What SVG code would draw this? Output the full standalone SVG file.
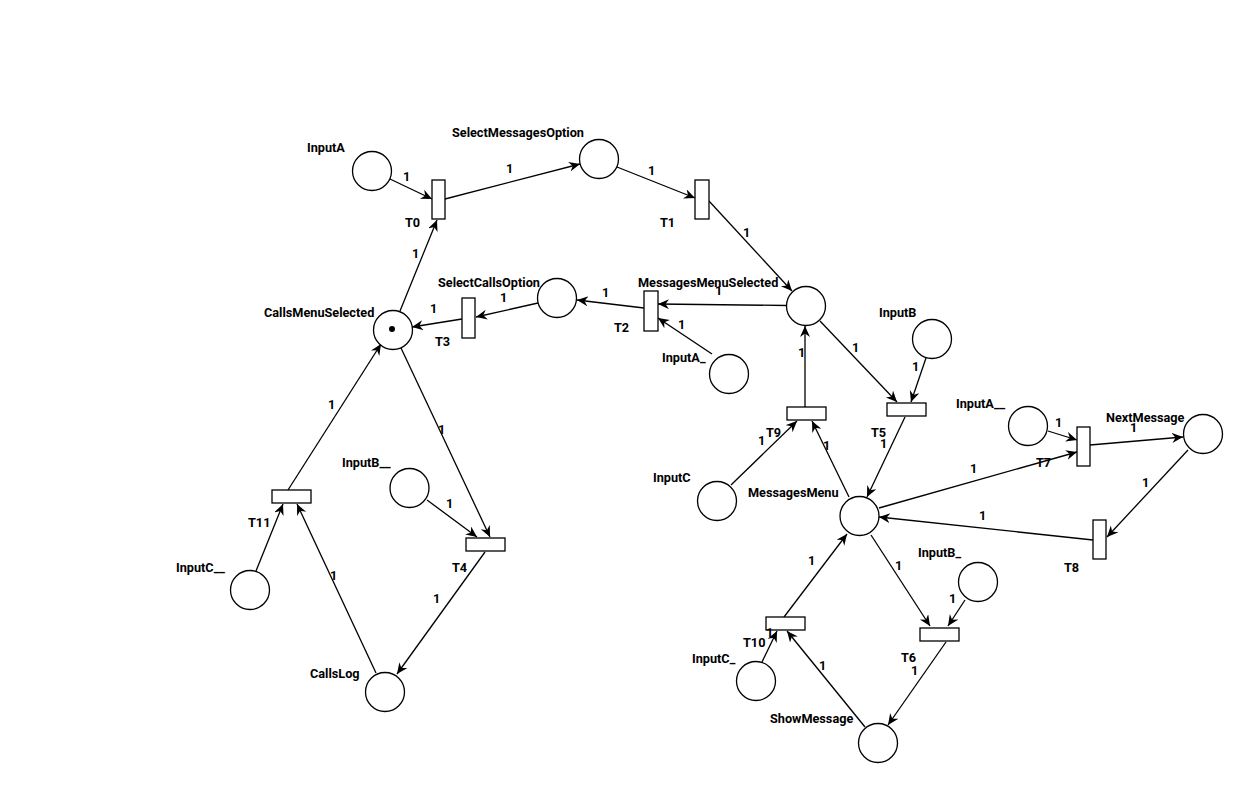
<svg xmlns="http://www.w3.org/2000/svg" width="1247" height="787" viewBox="0 0 1247 787">
  <style>
    .arc { fill: none; stroke: #000; stroke-width: 1.3; marker-end: url(#arrow); }
    .place { fill: #fff; stroke: #000; stroke-width: 1.3; }
    .trans { fill: #fff; stroke: #000; stroke-width: 1.3; }
    text { font-family: Roboto, "Liberation Sans", sans-serif; font-size: 12.7px; font-weight: bold; fill: #000; }
  </style>
  <defs>
    <marker id="arrow" markerUnits="userSpaceOnUse" markerWidth="13" markerHeight="12" refX="11" refY="5" orient="auto">
      <path d="M0,0 L11,5 L0,10 L3.5,5 Z" fill="#000"/>
    </marker>
  </defs>
  <rect width="1247" height="787" fill="#fff"/>

  <!-- arcs -->
  <g id="connectors">
    <line class="arc" x1="390" y1="179" x2="432" y2="199"/>
    <line class="arc" x1="400" y1="311" x2="437" y2="220"/>
    <line class="arc" x1="445" y1="199" x2="580" y2="164"/>
    <line class="arc" x1="617" y1="167" x2="695" y2="198"/>
    <line class="arc" x1="709" y1="201" x2="792" y2="291"/>
    <line class="arc" x1="786" y1="305.5" x2="658" y2="304"/>
    <line class="arc" x1="712" y1="354" x2="658" y2="318"/>
    <line class="arc" x1="644" y1="308" x2="577" y2="300"/>
    <line class="arc" x1="538" y1="303" x2="476" y2="317"/>
    <line class="arc" x1="462" y1="319" x2="412" y2="327"/>
    <line class="arc" x1="401" y1="348" x2="490" y2="537"/>
    <line class="arc" x1="427" y1="500" x2="477" y2="537"/>
    <line class="arc" x1="485" y1="552" x2="397" y2="674"/>
    <line class="arc" x1="376" y1="673" x2="297" y2="504"/>
    <line class="arc" x1="256" y1="571" x2="283" y2="504"/>
    <line class="arc" x1="288" y1="490" x2="381" y2="344"/>
    <line class="arc" x1="820" y1="321" x2="897" y2="402"/>
    <line class="arc" x1="926" y1="358" x2="911" y2="402"/>
    <line class="arc" x1="905" y1="417" x2="867" y2="497"/>
    <line class="arc" x1="805" y1="407" x2="805" y2="326"/>
    <line class="arc" x1="731" y1="485" x2="797" y2="421"/>
    <line class="arc" x1="849" y1="497" x2="812" y2="421"/>
    <line class="arc" x1="879" y1="508" x2="1077" y2="452"/>
    <line class="arc" x1="1048" y1="431" x2="1077" y2="440"/>
    <line class="arc" x1="1090" y1="445" x2="1183" y2="437"/>
    <line class="arc" x1="1188" y1="450" x2="1107" y2="537"/>
    <line class="arc" x1="1093" y1="540" x2="879" y2="517"/>
    <line class="arc" x1="871" y1="535" x2="930" y2="626"/>
    <line class="arc" x1="965" y1="600" x2="948" y2="626"/>
    <line class="arc" x1="946" y1="642" x2="888" y2="725"/>
    <line class="arc" x1="865" y1="727" x2="787" y2="631"/>
    <line class="arc" x1="762" y1="662" x2="777" y2="631"/>
    <line class="arc" x1="784" y1="617" x2="847" y2="534"/>
  </g>

  <!-- places -->
  <g id="InputA"><circle class="place" cx="372" cy="171" r="19.5"/><text x="307" y="152">InputA</text></g>
  <g id="SelectMessagesOption"><circle class="place" cx="599" cy="159" r="19.5"/><text x="452" y="137">SelectMessagesOption</text></g>
  <g id="MessagesMenuSelected"><circle class="place" cx="806" cy="306" r="19.5"/><text x="638" y="287">MessagesMenuSelected</text></g>
  <g id="SelectCallsOption"><circle class="place" cx="557" cy="298" r="19.5"/><text x="438" y="287">SelectCallsOption</text></g>
  <g id="CallsMenuSelected"><circle class="place" cx="393" cy="330" r="19.5"/><circle cx="392" cy="329" r="3" fill="#000"/><text x="264" y="317">CallsMenuSelected</text></g>
  <g id="InputA_"><circle class="place" cx="729" cy="374" r="19.5"/><text x="662" y="362">InputA_</text></g>
  <g id="InputB"><circle class="place" cx="932" cy="339" r="19.5"/><text x="879" y="317">InputB</text></g>
  <g id="InputA__"><circle class="place" cx="1028" cy="426" r="19.5"/><text x="956" y="408">InputA__</text></g>
  <g id="NextMessage"><circle class="place" cx="1203" cy="434" r="19.5"/><text x="1106" y="422">NextMessage</text></g>
  <g id="InputB__"><circle class="place" cx="409.5" cy="488" r="19.5"/><text x="342" y="467">InputB__</text></g>
  <g id="InputC__"><circle class="place" cx="250" cy="590" r="19.5"/><text x="176" y="572">InputC__</text></g>
  <g id="InputC"><circle class="place" cx="717" cy="501" r="19.5"/><text x="653" y="482">InputC</text></g>
  <g id="MessagesMenu"><circle class="place" cx="859.5" cy="516" r="19.5"/><text x="748" y="497">MessagesMenu</text></g>
  <g id="InputB_"><circle class="place" cx="978" cy="582" r="19.5"/><text x="918" y="557">InputB_</text></g>
  <g id="InputC_"><circle class="place" cx="756" cy="681" r="19.5"/><text x="692" y="663">InputC_</text></g>
  <g id="ShowMessage"><circle class="place" cx="878" cy="743" r="19.5"/><text x="770" y="723">ShowMessage</text></g>
  <g id="CallsLog"><circle class="place" cx="385" cy="692" r="19.5"/><text x="310" y="678">CallsLog</text></g>

  <!-- transitions -->
  <g id="T0"><rect class="trans" x="432" y="180" width="13" height="39"/><text x="405" y="227">T0</text></g>
  <g id="T1"><rect class="trans" x="695" y="180" width="14" height="39"/><text x="660" y="227">T1</text></g>
  <g id="T2"><rect class="trans" x="644" y="291" width="14" height="40"/><text x="614" y="332">T2</text></g>
  <g id="T3"><rect class="trans" x="462" y="298" width="13" height="40"/><text x="435" y="346">T3</text></g>
  <g id="T4"><rect class="trans" x="466" y="538" width="39" height="13"/><text x="452" y="572">T4</text></g>
  <g id="T5"><rect class="trans" x="887" y="403" width="39" height="13"/><text x="871" y="437">T5</text></g>
  <g id="T6"><rect class="trans" x="920" y="628" width="39" height="13"/><text x="901" y="662">T6</text></g>
  <g id="T7"><rect class="trans" x="1077" y="427" width="13" height="39"/><text x="1036" y="467">T7</text></g>
  <g id="T8"><rect class="trans" x="1093" y="520" width="13" height="39"/><text x="1064" y="572">T8</text></g>
  <g id="T9"><rect class="trans" x="787" y="407" width="39" height="13"/><text x="766" y="437">T9</text></g>
  <g id="T10"><rect class="trans" x="766" y="617" width="39" height="13"/><text x="743" y="647">T10</text></g>
  <g id="T11"><rect class="trans" x="272" y="490" width="39" height="13"/><text x="248" y="527">T11</text></g>

  <!-- arc weights -->
  <g id="weights">
    <text x="403" y="181">1</text>
    <text x="506" y="173">1</text>
    <text x="648" y="175">1</text>
    <text x="743" y="237">1</text>
    <text x="715" y="295">1</text>
    <text x="678" y="329">1</text>
    <text x="602" y="297">1</text>
    <text x="500" y="302">1</text>
    <text x="430" y="313">1</text>
    <text x="412" y="258">1</text>
    <text x="852" y="352">1</text>
    <text x="912" y="371">1</text>
    <text x="798" y="357">1</text>
    <text x="758" y="445">1</text>
    <text x="823" y="450">1</text>
    <text x="880" y="448">1</text>
    <text x="1055" y="427">1</text>
    <text x="1130" y="432">1</text>
    <text x="970" y="473">1</text>
    <text x="1142" y="487">1</text>
    <text x="979" y="520">1</text>
    <text x="446" y="508">1</text>
    <text x="438" y="434">1</text>
    <text x="328" y="409">1</text>
    <text x="330" y="580">1</text>
    <text x="433" y="603">1</text>
    <text x="808" y="565">1</text>
    <text x="895" y="570">1</text>
    <text x="949" y="603">1</text>
    <text x="819" y="670">1</text>
    <text x="911" y="675">1</text>
    <text x="766" y="637">1</text>
  </g>
</svg>
